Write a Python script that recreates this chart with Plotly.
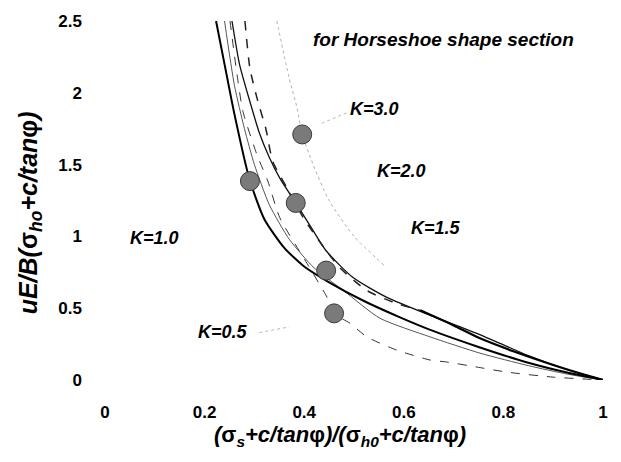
import plotly.graph_objects as go

# ---- data ----
c1_x = [0.223, 0.24, 0.26, 0.29, 0.32, 0.36, 0.40, 0.45, 0.52, 0.59, 0.66, 0.75, 0.85, 0.93, 1.0]
c1_y = [2.5, 2.2, 1.85, 1.40, 1.12, 0.92, 0.79, 0.68, 0.55, 0.44, 0.34, 0.23, 0.12, 0.05, 0.0]

c2_x = [0.255, 0.27, 0.29, 0.31, 0.33, 0.351, 0.383, 0.418, 0.444, 0.498, 0.566, 0.653, 0.75, 0.85, 0.93, 1.0]
c2_y = [2.5, 2.2, 1.95, 1.72, 1.55, 1.406, 1.233, 1.04, 0.90, 0.713, 0.575, 0.45, 0.32, 0.17, 0.07, 0.0]

c3_x = [0.281, 0.291, 0.307, 0.323, 0.337, 0.365, 0.40, 0.437, 0.472, 0.526, 0.58, 0.633]
c3_y = [2.5, 2.17, 1.94, 1.75, 1.52, 1.34, 1.12, 0.935, 0.78, 0.623, 0.54, 0.485]

c6_x = [0.633, 0.70, 0.753, 0.82, 0.888, 0.95, 1.0]
c6_y = [0.485, 0.38, 0.29, 0.20, 0.118, 0.05, 0.0]

c4_x = [0.251, 0.265, 0.277, 0.305, 0.327, 0.351, 0.406, 0.446, 0.46, 0.492, 0.526, 0.586, 0.653, 0.687, 0.747, 0.807, 0.9, 1.0]
c4_y = [2.5, 2.13, 1.87, 1.57, 1.385, 1.13, 0.81, 0.575, 0.464, 0.395, 0.30, 0.208, 0.139, 0.125, 0.09, 0.055, 0.02, 0.0]

c7_x = [0.24, 0.26, 0.28, 0.30, 0.33, 0.37, 0.42, 0.48, 0.552, 0.653, 0.753, 0.85, 0.93, 1.0]
c7_y = [2.5, 2.05, 1.75, 1.5, 1.22, 0.98, 0.78, 0.62, 0.43, 0.30, 0.187, 0.10, 0.04, 0.0]

c5_x = [0.345, 0.37, 0.386, 0.396, 0.418, 0.45, 0.50, 0.56]
c5_y = [2.5, 2.1, 1.89, 1.71, 1.50, 1.25, 1.0, 0.80]

pt_x = [0.291, 0.396, 0.383, 0.444, 0.46]
pt_y = [1.385, 1.71, 1.233, 0.762, 0.464]

lab_text = ["K=3.0", "K=2.0", "K=1.5", "K=1.0", "K=0.5"]
lab_x = [0.542, 0.596, 0.665, 0.10, 0.237]
lab_y = [1.884, 1.454, 1.06, 0.99, 0.332]

# faint dotted leader lines from labels toward curves
lead1_x = [0.485, 0.43]
lead1_y = [1.86, 1.78]
lead2_x = [0.31, 0.37]
lead2_y = [0.33, 0.37]

x_ticks = [0, 0.2, 0.4, 0.6, 0.8, 1]
x_tick_text = ["0", "0.2", "0.4", "0.6", "0.8", "1"]
y_ticks = [0, 0.5, 1, 1.5, 2, 2.5]
y_tick_text = ["0", "0.5", "1", "1.5", "2", "2.5"]

FONT = "Liberation Sans, Arial, sans-serif"
UP = "<span style='font-style:normal'>{}</span>"

fig = go.Figure()

def add_line(x, y, color, width, dash, shape="spline"):
    fig.add_trace(go.Scatter(x=x, y=y, mode="lines",
                             line=dict(color=color, width=width, dash=dash, shape=shape, smoothing=0.6),
                             showlegend=False, hoverinfo="skip"))

add_line(lead1_x, lead1_y, "#b8b8b8", 1, "dot", "linear")
add_line(lead2_x, lead2_y, "#b8b8b8", 1, "dot", "linear")
add_line(c5_x, c5_y, "#b0b0b0", 1, "dot")
add_line(c7_x, c7_y, "#555555", 1, "solid")
add_line(c4_x, c4_y, "#333333", 1, "dash")
add_line(c2_x, c2_y, "#111111", 1.3, "solid")
add_line(c3_x, c3_y, "#222222", 1.5, "dash")
add_line(c6_x, c6_y, "#000000", 2.2, "solid")
add_line(c1_x, c1_y, "#000000", 2, "solid")

fig.add_trace(go.Scatter(x=pt_x, y=pt_y, mode="markers",
                         marker=dict(size=19, color="#7a7a7a", line=dict(color="#3a3a3a", width=1)),
                         showlegend=False, hoverinfo="skip"))

for t, x, y in zip(lab_text, lab_x, lab_y):
    fig.add_annotation(x=x, y=y, text="<b><i>" + t + "</i></b>", showarrow=False,
                       font=dict(family=FONT, size=18, color="black"))

fig.add_annotation(x=0.68, y=2.37, text="<b><i>for Horseshoe shape section</i></b>", showarrow=False,
                   font=dict(family=FONT, size=19, color="black"))

# axis titles
xt = "<b><i>(" + UP.format("σ") + "<sub>s</sub>+c/tan" + UP.format("φ") + ")/(" + UP.format("σ") + \
     "<sub>h0</sub>+c/tan" + UP.format("φ") + ")</i></b>"
yt = "<b><i>uE/B(" + UP.format("σ") + "<sub>ho</sub>+c/tan" + UP.format("φ") + ")</i></b>"
fig.add_annotation(xref="paper", yref="paper", x=0.472, y=-0.156, yanchor="middle", xanchor="center",
                   text=xt, showarrow=False, font=dict(family=FONT, size=22, color="black"))
fig.add_annotation(xref="paper", yref="paper", x=-0.15, y=0.465, xanchor="center", yanchor="middle",
                   textangle=-90, text=yt, showarrow=False, font=dict(family=FONT, size=25, color="black"))

fig.update_layout(
    width=621, height=462,
    margin=dict(l=105, r=18, t=21, b=82),
    paper_bgcolor="white", plot_bgcolor="white",
    font=dict(family=FONT, color="black"),
)
fig.update_xaxes(range=[0, 1], tickvals=x_ticks, ticktext=x_tick_text, showgrid=False, zeroline=False,
                 showline=False, ticks="", ticklabelstandoff=20,
                 tickfont=dict(family=FONT, size=17, color="black", weight="bold"))
fig.update_yaxes(range=[0, 2.5], tickvals=y_ticks, ticktext=y_tick_text, showgrid=False, zeroline=False,
                 showline=False, ticks="", ticklabelstandoff=22,
                 tickfont=dict(family=FONT, size=17, color="black", weight="bold"))

fig.write_html("out.html")
